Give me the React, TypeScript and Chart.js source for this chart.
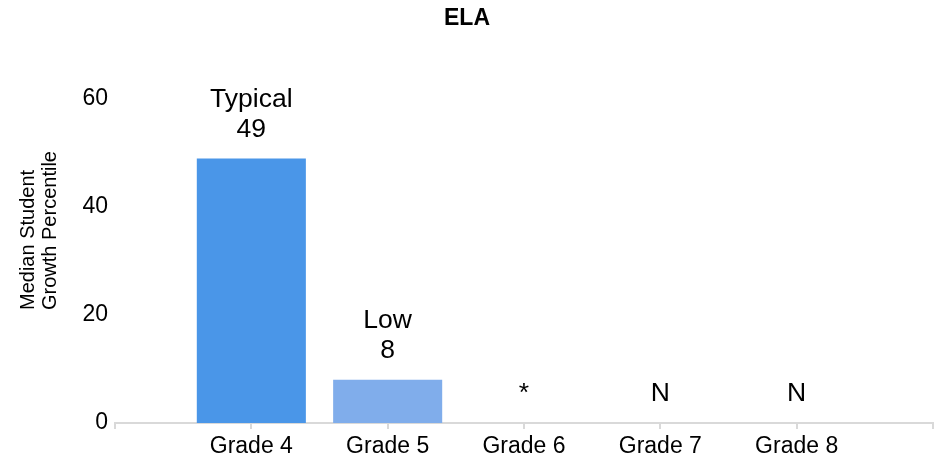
import React, { useEffect, useRef } from "react";
import { Chart, registerables } from "chart.js";

Chart.register(...registerables);

const categories = ["", "Grade 4", "Grade 5", "Grade 6", "Grade 7", "Grade 8", ""];
const values: (number | null)[] = [null, 49, 8, null, null, null, null];
const barLabels: string[][] = [[], ["Typical", "49"], ["Low", "8"], ["*"], ["N"], ["N"], []];
const barColors = ["#4A96E8", "#4A96E8", "#80ADEB", "#80ADEB", "#80ADEB", "#80ADEB", "#80ADEB"];
const yTicks = [0, 20, 40, 60];
const chartTitle = "ELA";
const yTitle = ["Median Student", "Growth Percentile"];

const FONT = "'Liberation Sans', Arial, sans-serif";

const labelPlugin = {
  id: "barTopLabels",
  afterDatasetsDraw(chart: any) {
    const { ctx, scales } = chart;
    const xs = scales.x;
    const ys = scales.y;
    ctx.save();
    ctx.fillStyle = "#000";
    ctx.font = `26.5px ${FONT}`;
    ctx.textAlign = "center";
    ctx.textBaseline = "middle";
    barLabels.forEach((lines, i) => {
      if (!lines.length) return;
      const x = xs.getPixelForValue(i);
      const top = ys.getPixelForValue(values[i] ?? 0);
      const n = lines.length;
      lines.forEach((t, k) => {
        const y = top - 29 - (n - 1 - k) * 30;
        ctx.fillText(t, x, y);
      });
    });
    ctx.restore();
  },
};

const yTitlePlugin = {
  id: "yTitleCustom",
  afterDraw(chart: any) {
    const { ctx } = chart;
    ctx.save();
    ctx.fillStyle = "#000";
    ctx.font = `20px ${FONT}`;
    ctx.textAlign = "left";
    ctx.textBaseline = "middle";
    const xs = [28, 50];
    yTitle.forEach((t, k) => {
      ctx.save();
      ctx.translate(xs[k], 310);
      ctx.rotate(-Math.PI / 2);
      ctx.fillText(t, 0, 0);
      ctx.restore();
    });
    ctx.restore();
  },
};

export default function App() {
  const ref = useRef<HTMLCanvasElement | null>(null);
  useEffect(() => {
    document.body.style.margin = "0";
    if (!ref.current) return;
    const chart = new Chart(ref.current, {
      type: "bar",
      data: {
        labels: categories,
        datasets: [
          {
            data: values,
            backgroundColor: barColors,
            barPercentage: 1,
            categoryPercentage: 0.8,
          },
        ],
      },
      options: {
        animation: false,
        responsive: true,
        maintainAspectRatio: false,
        layout: { padding: { top: 0, right: 5, bottom: 0, left: 0 } },
        plugins: {
          legend: { display: false },
          tooltip: { enabled: false },
          title: {
            display: true,
            text: chartTitle,
            color: "#000",
            font: { family: FONT, size: 23, weight: "bold", lineHeight: 1.2 },
            padding: { top: 5, bottom: 66.4 },
          },
        },
        scales: {
          x: {
            type: "category",
            offset: false,
            afterFit(scale: any) {
              scale.height = 38;
            },
            grid: {
              display: true,
              offset: false,
              drawOnChartArea: false,
              drawTicks: true,
              tickLength: 6,
              color: "#d9d9d9",
              lineWidth: 2,
            },
            border: { display: true, color: "#d9d9d9", width: 2 },
            ticks: {
              color: "#000",
              font: { family: FONT, size: 23, lineHeight: 1.0 },
              padding: 6,
              maxRotation: 0,
              autoSkip: false,
            },
          },
          y: {
            min: 0,
            max: 60,
            afterFit(scale: any) {
              scale.width = 115;
            },
            afterBuildTicks(scale: any) {
              scale.ticks = yTicks.map((v) => ({ value: v }));
            },
            grid: { display: false, drawTicks: false },
            border: { display: false },
            ticks: {
              color: "#000",
              font: { family: FONT, size: 23 },
              padding: 7,
            },
          },
        },
      },
      plugins: [labelPlugin, yTitlePlugin],
    });
    return () => chart.destroy();
  }, []);
  return (
    <div style={{ width: 939, height: 461, position: "relative" }}>
      <canvas ref={ref} />
    </div>
  );
}
